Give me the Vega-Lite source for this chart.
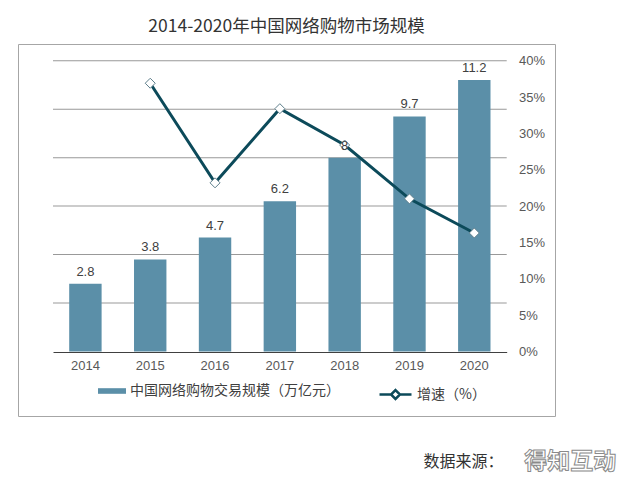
{
  "$schema": "https://vega.github.io/schema/vega-lite/v6.json",
  "width": 537,
  "height": 372,
  "autosize": {"type": "none"},
  "padding": {"left": 18, "top": 44, "right": 85, "bottom": 69},
  "background": "white",
  "title": {"text": "2014-2020年中国网络购物市场规模", "font": "Noto Sans CJK SC", "fontSize": 17.5, "fontWeight": "normal", "color": "#333333", "anchor": "middle", "offset": 9},
  "config": {
    "view": {"stroke": "#a6a6a6", "strokeWidth": 1},
    "axis": {"labelFont": "Liberation Sans", "labelFontSize": 13, "labelColor": "#595959"}
  },
  "datasets": {
    "size": [
      {"year": "2014", "v": 2.8},
      {"year": "2015", "v": 3.8},
      {"year": "2016", "v": 4.7},
      {"year": "2017", "v": 6.2},
      {"year": "2018", "v": 8},
      {"year": "2019", "v": 9.7},
      {"year": "2020", "v": 11.2}
    ],
    "growth": [
      {"year": "2015", "g": 0.369},
      {"year": "2016", "g": 0.232},
      {"year": "2017", "g": 0.334},
      {"year": "2018", "g": 0.284},
      {"year": "2019", "g": 0.210},
      {"year": "2020", "g": 0.163}
    ],
    "grid": [{"t": 2}, {"t": 4}, {"t": 6}, {"t": 8}, {"t": 10}, {"t": 12}],
    "notes": [{"src": "数据来源：", "logo": "得知互动", "yr": "2019", "yr2": "2020", "pos": -4.56}]
  },
  "layer": [
    {
      "layer": [
        {
          "data": {"name": "grid"},
          "mark": {"type": "tick", "size": 453.7, "thickness": 1, "color": "#999999", "opacity": 1},
          "encoding": {
            "x": {"datum": "2017", "type": "ordinal"},
            "y": {"field": "t", "type": "quantitative", "axis": null}
          }
        },
        {
          "data": {"name": "size"},
          "mark": {"type": "bar"},
          "encoding": {
            "x": {"field": "year", "type": "ordinal",
              "scale": {"domain": ["2014", "2015", "2016", "2017", "2018", "2019", "2020"], "range": [35, 488.7], "paddingInner": 0.5, "paddingOuter": 0.25},
              "axis": {"title": null, "labelAngle": 0, "ticks": false, "bandPosition": 0.5, "labelAlign": "center", "domainColor": "#404040", "domainWidth": 1, "labelPadding": 13, "offset": -64, "grid": false}},
            "y": {"field": "v", "type": "quantitative",
              "scale": {"domain": [0, 12], "range": [307.5, 16.7], "nice": false, "zero": false},
              "axis": {"title": null, "values": [0, 2, 4, 6, 8, 10, 12], "grid": false, "ticks": false, "domain": false, "labelPadding": 10, "offset": -35}},
            "fill": {"datum": "中国网络购物交易规模（万亿元）", "type": "nominal", "scale": {"range": ["#5b8fa8"]},
              "legend": {"orient": "none", "legendX": 80, "legendY": 333, "title": null, "symbolType": "M-1,-0.2H1V0.2H-1Z", "symbolSize": 784, "symbolStrokeWidth": 0, "labelFont": "Noto Sans CJK SC", "labelFontSize": 14, "labelColor": "#404040", "labelOffset": 4, "labelLimit": 400, "padding": 0}}
          }
        }
      ]
    },
    {
      "data": {"name": "growth"},
      "layer": [
        {
          "mark": {"type": "line", "strokeWidth": 3},
          "encoding": {
            "x": {"field": "year", "type": "ordinal"},
            "y": {"field": "g", "type": "quantitative",
              "scale": {"domain": [0, 0.4], "range": [307.5, 16.7], "nice": false, "zero": false},
              "axis": {"orient": "right", "title": null, "format": ".0%", "values": [0, 0.05, 0.1, 0.15, 0.2, 0.25, 0.3, 0.35, 0.4], "grid": false, "ticks": false, "domain": false, "labelPadding": 12, "offset": -48.5}},
            "stroke": {"datum": "增速（%）", "type": "nominal", "scale": {"range": ["#0c4a5a"]},
              "legend": {"orient": "none", "legendX": 360, "legendY": 333, "title": null, "symbolType": "M-1,0H-0.3M0.3,0H1M0,-0.28L0.28,0L0,0.28L-0.28,0Z", "symbolSize": 1024, "symbolStrokeWidth": 2.5, "symbolFillColor": "#ffffff", "labelFont": "Noto Sans CJK SC", "labelFontSize": 14, "labelColor": "#404040", "labelOffset": 4, "labelLimit": 300, "padding": 0}}
          }
        },
        {
          "mark": {"type": "point", "shape": "diamond", "filled": true, "fill": "#ffffff", "stroke": "#5f7f8c", "strokeWidth": 1, "size": 100, "opacity": 1},
          "encoding": {
            "x": {"field": "year", "type": "ordinal"},
            "y": {"field": "g", "type": "quantitative"}
          }
        }
      ]
    },
    {
      "layer": [
        {
          "data": {"name": "size"},
          "mark": {"type": "text", "baseline": "bottom", "dy": -5, "font": "Liberation Sans", "fontSize": 13, "color": "#404040"},
          "encoding": {
            "x": {"field": "year", "type": "ordinal"},
            "y": {"field": "v", "type": "quantitative", "scale": {"domain": [0, 12], "range": [307.5, 16.7], "nice": false, "zero": false}, "axis": null},
            "text": {"field": "v", "type": "quantitative"}
          }
        },
        {
          "data": {"name": "notes"},
          "mark": {"type": "text", "align": "left", "baseline": "middle", "dx": 14, "font": "Noto Sans CJK SC", "fontSize": 16, "color": "#333333"},
          "encoding": {
            "x": {"field": "yr", "type": "ordinal"},
            "y": {"field": "pos", "type": "quantitative"},
            "text": {"field": "src"}
          }
        },
        {
          "data": {"name": "notes"},
          "mark": {"type": "text", "align": "left", "baseline": "middle", "dx": 50, "font": "Noto Sans CJK SC", "fontSize": 23, "fontWeight": "bold", "color": "#ffffff", "stroke": "#8a8a8a", "strokeWidth": 1},
          "encoding": {
            "x": {"field": "yr2", "type": "ordinal"},
            "y": {"field": "pos", "type": "quantitative"},
            "text": {"field": "logo"}
          }
        }
      ]
    }
  ],
  "resolve": {"scale": {"y": "independent"}}
}
